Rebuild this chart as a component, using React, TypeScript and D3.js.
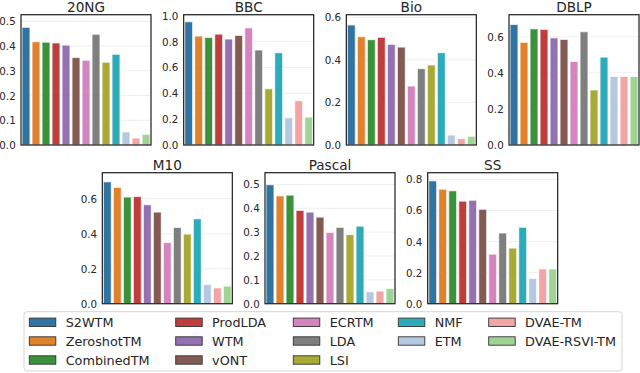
import React, { useEffect, useRef } from "react";
import * as d3 from "d3";

const methods = [
  "S2WTM", "ZeroshotTM", "CombinedTM", "ProdLDA", "WTM", "vONT", "ECRTM",
  "LDA", "LSI", "NMF", "ETM", "DVAE-TM", "DVAE-RSVI-TM",
];
const baseColors = [
  "#1f77b4", "#ff7f0e", "#2ca02c", "#d62728", "#9467bd", "#8c564b", "#e377c2",
  "#7f7f7f", "#bcbd22", "#17becf", "#aec7e8", "#ff9896", "#98df8a",
];
// legend column sizes (column-major fill)
const legendColumns = [3, 3, 3, 2, 2];

const datasets = ["20NG", "BBC", "Bio", "DBLP", "M10", "Pascal", "SS"];
const v20NG = [0.476, 0.418, 0.416, 0.413, 0.404, 0.354, 0.343, 0.448, 0.335, 0.367, 0.053, 0.028, 0.043];
const vBBC = [0.954, 0.843, 0.832, 0.858, 0.82, 0.848, 0.907, 0.735, 0.436, 0.714, 0.211, 0.343, 0.216];
const vBio = [0.564, 0.509, 0.495, 0.506, 0.473, 0.46, 0.277, 0.359, 0.376, 0.434, 0.047, 0.03, 0.041];
const vDBLP = [0.668, 0.569, 0.644, 0.641, 0.594, 0.585, 0.463, 0.628, 0.305, 0.487, 0.38, 0.38, 0.38];
const vM10 = [0.697, 0.665, 0.61, 0.613, 0.566, 0.524, 0.35, 0.436, 0.398, 0.486, 0.11, 0.091, 0.101];
const vPascal = [0.499, 0.452, 0.455, 0.391, 0.384, 0.363, 0.299, 0.32, 0.29, 0.325, 0.05, 0.053, 0.064];
const vSS = [0.791, 0.737, 0.727, 0.66, 0.666, 0.608, 0.319, 0.455, 0.358, 0.492, 0.162, 0.224, 0.224];
const seriesValues = [v20NG, vBBC, vBio, vDBLP, vM10, vPascal, vSS];

const yMax = [0.527, 1.008, 0.612, 0.722, 0.749, 0.549, 0.843];
const yTickStep = [0.1, 0.2, 0.2, 0.2, 0.2, 0.1, 0.2];
const yTickTop = [0.5, 1.0, 0.6, 0.6, 0.6, 0.5, 0.8];

const FONT = "'DejaVu Sans', sans-serif";
const TEXT = "#262626";

function desat(c: string, p = 0.75) {
  const h = d3.hsl(c);
  h.s *= p;
  return h.formatHex();
}

export default function App() {
  const ref = useRef<SVGSVGElement | null>(null);
  useEffect(() => {
    const svg = d3.select(ref.current);
    svg.selectAll("*").remove();
    const colors = baseColors.map((c) => desat(c));

    const W = 130;
    const colStep = 162.67;
    const layout = datasets.map((_, i) => {
      if (i < 4) return { x: 21 + i * colStep, y: 14.7, h: 130.3 };
      return { x: 21 + colStep / 2 + (i - 4) * colStep, y: 172.7, h: 131 };
    });

    datasets.forEach((name, i) => {
      const L = layout[i];
      const g = svg.append("g").attr("transform", `translate(${L.x},${L.y})`);
      const x = d3.scaleBand<string>().domain(methods).range([0, W]).paddingInner(0.2).paddingOuter(0.1);
      const y = d3.scaleLinear().domain([0, yMax[i]]).range([L.h, 0]);
      const ticks = d3.range(0, yTickTop[i] + 1e-9, yTickStep[i]);

      g.selectAll("line.grid").data(ticks).enter().append("line")
        .attr("x1", 0).attr("x2", W)
        .attr("y1", (d) => y(d)).attr("y2", (d) => y(d))
        .attr("stroke", "#ebebeb").attr("stroke-width", 0.8);

      g.selectAll("rect.bar").data(seriesValues[i]).enter().append("rect")
        .attr("x", (_, j) => x(methods[j])!)
        .attr("width", x.bandwidth())
        .attr("y", (d) => y(d))
        .attr("height", (d) => L.h - y(d))
        .attr("fill", (_, j) => colors[j])
        .attr("stroke", "#ffffff").attr("stroke-opacity", 0.7).attr("stroke-width", 1.2);

      g.selectAll("text.tick").data(ticks).enter().append("text")
        .attr("x", -5.3).attr("y", (d) => y(d))
        .attr("text-anchor", "end").attr("dominant-baseline", "central")
        .attr("font-family", FONT).attr("font-size", 10.3).attr("fill", TEXT)
        .text((d) => d3.format(".1f")(d));

      g.append("rect").attr("x", 0).attr("y", 0).attr("width", W).attr("height", L.h)
        .attr("fill", "none").attr("stroke", TEXT).attr("stroke-width", 1.25);

      g.append("text").attr("x", W / 2).attr("y", -2.5)
        .attr("text-anchor", "middle")
        .attr("font-family", FONT).attr("font-size", 13.6).attr("fill", TEXT)
        .text(name);
    });

    // legend
    const lg = svg.append("g");
    lg.append("rect").attr("x", 24).attr("y", 311.7).attr("width", 598).attr("height", 59.3)
      .attr("rx", 3).attr("fill", "#ffffff").attr("stroke", "#d6d6d6").attr("stroke-width", 1);
    const colX = [29.3, 175.7, 293.3, 398.3, 488.7];
    const rowY = [322.3, 341, 360];
    let j = 0;
    legendColumns.forEach((n, c) => {
      for (let r = 0; r < n; r++, j++) {
        const m = methods[j];
        lg.append("rect").attr("x", colX[c]).attr("y", rowY[r] - 4.2).attr("width", 26.5).attr("height", 8.4)
          .attr("fill", colors[j]).attr("stroke", "#333333").attr("stroke-width", 0.9);
        lg.append("text").attr("x", colX[c] + 36.4).attr("y", rowY[r])
          .attr("dominant-baseline", "central")
          .attr("font-family", FONT).attr("font-size", 12.8).attr("fill", TEXT)
          .text(m);
      }
    });
  }, []);

  return (
    <svg ref={ref} width={640} height={373}
      style={{ position: "fixed", left: 0, top: 0, background: "#ffffff" }} />
  );
}
